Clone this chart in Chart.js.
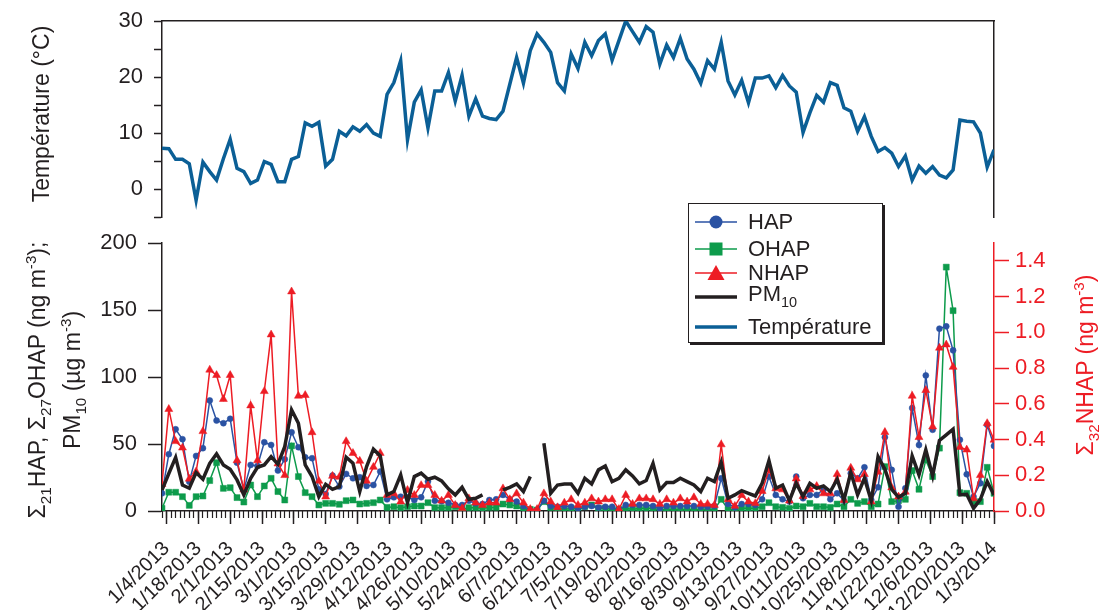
<!DOCTYPE html>
<html>
<head>
<meta charset="utf-8">
<script src="https://cdn.jsdelivr.net/npm/chart.js@4.4.1/dist/chart.umd.min.js"></script>
<style>
  html, body { margin: 0; padding: 0; background: #fff; }
  #wrap { position: relative; width: 1104px; height: 610px; overflow: hidden;
          font-family: 'Liberation Sans', Arial, sans-serif; color: #231f20; }
  #cTop { position: absolute; left: 0; top: 0; }
  #cBot { position: absolute; left: 0; top: 230px; }
  .title { position: absolute; white-space: nowrap; text-align: center;
           transform: rotate(-90deg); font-size: 23px; }
  .sub { font-size: 0.66em; position: relative; top: 0.38em; }
  .sup { font-size: 0.66em; position: relative; top: -0.6em; }
  #legend { position: absolute; left: 688px; top: 203px; width: 193px; height: 138px;
            border: 1px solid #231f20; box-shadow: 2px 2px 0 #231f20; background: #fff;
            font-size: 22px; }
  .row { position: absolute; left: 0; height: 30px; display: flex; align-items: center; }
  .row svg { margin-left: 6px; width: 44px; height: 20px; }
  .row span.t { position: absolute; left: 59px; white-space: nowrap; }
</style>
</head>
<body>
<div id="wrap">
  <canvas id="cTop" width="1104" height="230"></canvas>
  <canvas id="cBot" width="1104" height="380"></canvas>

  <div class="title" style="left:-69px; top:99px; width:220px; height:30px; line-height:30px;">Température (°C)</div>
  <div class="title" style="left:-96px; top:347px; width:300px; height:66px; line-height:33px;">Σ<span class="sub">21</span>HAP, Σ<span class="sub">27</span>OHAP (ng m<span class="sup">-3</span>);<br>PM<span class="sub">10</span> (µg m<span class="sup">-3</span>)</div>
  <div class="title" style="left:975px; top:350px; width:220px; height:30px; line-height:30px; color:#ed1c24;">Σ<span class="sub">32</span>NHAP (ng m<span class="sup">-3</span>)</div>

  <div id="legend">
    <div class="row" style="top:3px;">
      <svg viewBox="0 0 44 20"><line x1="0" y1="10" x2="42" y2="10" stroke="#2a52a3" stroke-width="1.5"/><circle cx="21" cy="10" r="6.5" fill="#2a52a3"/></svg>
      <span class="t">HAP</span>
    </div>
    <div class="row" style="top:30px;">
      <svg viewBox="0 0 44 20"><line x1="0" y1="10" x2="42" y2="10" stroke="#0d9b4b" stroke-width="1.5"/><rect x="14.5" y="3.5" width="13" height="13" fill="#0d9b4b"/></svg>
      <span class="t">OHAP</span>
    </div>
    <div class="row" style="top:54px;">
      <svg viewBox="0 0 44 20"><line x1="0" y1="10" x2="42" y2="10" stroke="#ed1c24" stroke-width="1.5"/><polygon points="21,2 29.5,17 12.5,17" fill="#ed1c24"/></svg>
      <span class="t">NHAP</span>
    </div>
    <div class="row" style="top:78px;">
      <svg viewBox="0 0 44 20"><line x1="0" y1="10" x2="42" y2="10" stroke="#231f20" stroke-width="3.5"/></svg>
      <span class="t" style="top:-1px;">PM<span class="sub">10</span></span>
    </div>
    <div class="row" style="top:108px;">
      <svg viewBox="0 0 44 20"><line x1="0" y1="10" x2="42" y2="10" stroke="#0b5f96" stroke-width="3.5"/></svg>
      <span class="t">Température</span>
    </div>
  </div>
</div>

<script>
// Samples were collected every third day, starting 2 January 2013.
// Positions on the time axis are day offsets from 4 January 2013.
const FIRST_DAY = -2;
const STEP_DAYS = 3;

// Temperature (°C)
const temperature = [
  7.3, 7.2, 5.3, 5.3, 4.5, -2.0, 4.8, 3.1, 1.6, 5.4, 8.9, 3.7, 3.1, 1.0, 1.6, 4.9, 4.4, 1.3, 1.3, 5.3,
  5.8, 11.8, 11.2, 11.9, 4.1, 5.3, 10.3, 9.5, 11.1, 10.3, 11.5, 10.0, 9.4, 16.9, 19.0, 22.9, 8.8, 15.5, 17.7, 10.9,
  17.5, 17.5, 20.8, 15.7, 20.3, 13.0, 16.1, 13.0, 12.6, 12.4, 13.9, 18.7, 23.5, 18.9, 24.7, 27.7, 26.2, 24.4, 19.0, 17.5,
  24.1, 21.5, 26.2, 23.8, 26.5, 27.7, 23.0, 26.5, 30.0, 28.1, 26.2, 29.0, 28.0, 22.3, 25.7, 23.5, 26.9, 23.2, 21.4, 18.9,
  22.9, 21.4, 26.2, 19.3, 16.8, 19.4, 15.4, 19.8, 19.8, 20.2, 18.1, 20.3, 18.4, 17.3, 10.1, 13.6, 16.7, 15.5, 19.0, 18.5,
  14.5, 13.9, 10.3, 12.9, 9.4, 6.7, 7.4, 6.4, 4.0, 5.9, 1.6, 4.1, 2.8, 4.0, 2.5, 2.0, 3.4, 12.3, 12.1, 12.0,
  10.0, 3.9, 7.0
];

// Σ21 HAP (ng m-3)
const hap = [
  13.2, 42.4, 61.0, 53.6, 21.9, 41.1, 46.9, 82.5, 67.5, 65.5, 68.8, 36.1, 15.7, 34.4, 33.6, 51.3, 49.3, 30.2, 38.6, 58.8,
  47.6, 40.1, 39.4, 16.2, 12.7, 26.4, 18.2, 27.7, 24.4, 25.2, 18.7, 19.4, 29.4, 8.7, 10.2, 10.7, 10.2, 8.2, 10.2, 22.0,
  7.7, 7.2, 6.2, 4.5, 4.5, 7.7, 5.7, 5.2, 8.2, 8.7, 12.0, 8.7, 7.0, 3.7, 0.5, 0.7, 7.7, 3.7, 3.2, 3.7,
  3.2, 2.0, 3.2, 3.7, 2.7, 3.2, 3.2, 0.7, 4.5, 4.5, 4.5, 4.5, 3.7, 2.0, 3.7, 3.7, 3.7, 3.7, 3.7, 3.2,
  3.2, 3.7, 24.4, 5.2, 2.7, 5.2, 5.2, 4.5, 8.7, 25.7, 12.0, 8.7, 7.0, 25.7, 9.5, 12.0, 12.0, 16.2, 8.7, 13.2,
  7.7, 28.2, 24.4, 32.6, 8.2, 17.7, 55.1, 30.7, 3.2, 17.0, 76.8, 49.3, 101.2, 60.6, 136.1, 137.8, 119.9, 53.1, 27.4, 10.7,
  20.7, 64.3, 48.6
];

// Σ27 OHAP (ng m-3)
const ohap = [
  2.0, 14.0, 14.0, 10.7, 4.2, 10.7, 11.2, 22.7, 36.1, 16.9, 17.4, 10.0, 6.7, 19.4, 10.7, 18.7, 24.4, 14.5, 8.2, 48.6,
  25.7, 13.7, 10.7, 4.5, 5.7, 5.7, 5.0, 7.7, 8.2, 5.2, 5.7, 6.2, 8.2, 2.7, 3.2, 2.5, 3.2, 3.7, 3.7, 6.2,
  2.5, 2.5, 2.5, 3.2, 1.2, 2.5, 2.5, 2.0, 2.7, 2.7, 5.2, 4.5, 3.7, 1.2, 1.2, 0.7, 7.0, 2.5, 2.0, 1.2,
  2.0, 1.2, 3.2, 4.5, 2.0, 2.0, 1.2, 1.2, 2.0, 1.2, 2.0, 2.0, 2.0, 0.7, 1.2, 1.2, 1.2, 1.2, 1.2, 1.2,
  1.2, 1.2, 8.7, 1.2, 0.7, 2.0, 2.0, 2.0, 3.2, 6.2, 3.2, 2.7, 2.0, 3.7, 3.2, 5.7, 3.2, 3.2, 2.7, 5.2,
  3.2, 8.7, 5.7, 7.0, 3.2, 5.2, 33.1, 7.0, 7.7, 8.7, 30.2, 16.2, 38.1, 25.7, 46.9, 182.0, 149.5, 13.7, 13.2, 7.0,
  7.0, 32.6, 13.2
];

// Σ32 NHAP (ng m-3), right axis
const nhap = [
  0.150, 0.570, 0.390, 0.354, 0.180, 0.220, 0.446, 0.790, 0.760, 0.626, 0.760, 0.283, 0.120, 0.590, 0.283, 0.670, 0.987, 0.265, 0.200, 1.228,
  0.644, 0.648, 0.440, 0.168, 0.080, 0.196, 0.190, 0.390, 0.324, 0.280, 0.168, 0.246, 0.324, 0.089, 0.098, 0.052, 0.117, 0.089, 0.144, 0.144,
  0.089, 0.057, 0.089, 0.033, 0.015, 0.070, 0.046, 0.033, 0.046, 0.046, 0.126, 0.065, 0.098, 0.046, 0.010, 0.010, 0.098, 0.052, 0.020, 0.046,
  0.065, 0.033, 0.046, 0.070, 0.052, 0.065, 0.065, 0.010, 0.089, 0.039, 0.070, 0.070, 0.065, 0.039, 0.065, 0.046, 0.070, 0.052, 0.076, 0.039,
  0.039, 0.033, 0.372, 0.065, 0.028, 0.089, 0.052, 0.043, 0.111, 0.231, 0.126, 0.120, 0.057, 0.181, 0.083, 0.120, 0.139, 0.098, 0.098, 0.206,
  0.061, 0.241, 0.176, 0.206, 0.052, 0.219, 0.441, 0.131, 0.080, 0.107, 0.644, 0.413, 0.676, 0.472, 0.913, 0.931, 0.806, 0.357, 0.343, 0.070,
  0.200, 0.491, 0.398
];

// PM10 (µg m-3); null where no measurement was made
const pm10 = [
  15.7, 28.0, 40.0, 19.4, 17.0, 28.7, 23.7, 35.6, 42.6, 34.4, 31.2, 23.2, 12.0, 24.4, 32.6, 34.4, 40.6, 34.9, 48.1, 75.5,
  65.5, 34.4, 25.7, 10.7, 19.9, 16.2, 18.2, 40.1, 35.6, 14.5, 33.1, 46.1, 41.1, 12.0, 14.5, 26.9, 6.2, 25.7, 28.2, 23.7,
  25.2, 22.5, 16.5, 12.0, 17.7, 8.7, 9.5, 12.0, null, null, 15.7, 17.7, 20.2, 14.5, 25.7, null, 50.6, 13.2, 19.4, 20.2,
  20.2, 13.2, 24.4, 20.2, 30.7, 33.6, 21.9, 24.4, 30.7, 26.2, 20.2, 22.7, 35.6, 15.7, 21.2, 21.2, 24.4, 21.9, 19.4, 14.5,
  24.4, 21.9, 36.4, 9.5, 12.0, 15.2, 13.2, 11.2, 20.7, 37.6, 17.0, 19.4, 7.7, 20.7, 10.7, 20.7, 17.0, 18.7, 14.5, 23.7,
  8.2, 28.7, 12.0, 24.4, 7.7, 40.6, 31.2, 16.2, 10.2, 13.2, 41.1, 26.9, 45.6, 26.2, 52.6, 56.8, 61.1, 12.0, 12.5, 2.0,
  8.7, 22.0, 12.0
];

// Date axis: labelled every two weeks, minor marks every two days
const dateLabels = [
  '1/4/2013', '1/18/2013', '2/1/2013', '2/15/2013', '3/1/2013', '3/15/2013', '3/29/2013',
  '4/12/2013', '4/26/2013', '5/10/2013', '5/24/2013', '6/7/2013', '6/21/2013', '7/5/2013',
  '7/19/2013', '8/2/2013', '8/16/2013', '8/30/2013', '9/13/2013', '9/27/2013', '10/11/2013',
  '10/25/2013', '11/8/2013', '11/22/2013', '12/6/2013', '12/20/2013', '1/3/2014'
];
const labelDays = [0, 14, 28, 42, 56, 70, 84, 98, 112, 126, 140, 154, 168, 182,
                   196, 210, 224, 238, 252, 266, 280, 294, 308, 322, 336, 350, 364];
const minorDays = [];
for (let d = -2; d <= 364; d += 2) minorDays.push(d);

const tempTicks = [-5, 0, 5, 10, 15, 20, 25, 30];
const leftTicks = [0, 50, 100, 150, 200];
const rightTicks = [0, 0.2, 0.4, 0.6, 0.8, 1.0, 1.2, 1.4];

const days = temperature.map((_, i) => FIRST_DAY + STEP_DAYS * i);
const pts = arr => arr.map((v, i) => ({ x: days[i], y: v }));

const AXIS = '#231f20';
const RED = '#ed1c24';
const BLUE = '#2a52a3';
const GREEN = '#0d9b4b';
const TEMP = '#0b5f96';
const FONT = "'Liberation Sans', Arial, sans-serif";
const X_MIN = -2, X_MAX = 364;

const setTicks = list => scale => { scale.ticks = list.map(v => ({ value: v })); };
// keep the plot frame exactly where the layout padding puts it
const fixWidth = w => s => { s.width = w; s.paddingTop = 0; s.paddingBottom = 0; };

// Upper panel: temperature
new Chart(document.getElementById('cTop'), {
  type: 'line',
  data: {
    datasets: [{
      data: pts(temperature), borderColor: TEMP, borderWidth: 3.5,
      pointRadius: 0, tension: 0, xAxisID: 'x', yAxisID: 'y'
    }]
  },
  options: {
    responsive: false, animation: false, events: [],
    layout: { padding: { top: 21, bottom: 13, left: 0, right: 110 } },
    plugins: { legend: { display: false }, tooltip: { enabled: false } },
    scales: {
      x: {
        type: 'linear', position: 'top', min: X_MIN, max: X_MAX,
        ticks: { display: false },
        grid: { drawOnChartArea: false, drawTicks: false },
        border: { color: AXIS, width: 1.5 },
        afterFit: s => { s.height = 0; s.paddingLeft = 0; s.paddingRight = 0; }
      },
      y: {
        position: 'left', min: -5, max: 30,
        afterBuildTicks: setTicks(tempTicks),
        ticks: {
          autoSkip: false,
          callback: v => (v % 10 === 0 ? String(v) : ''),
          font: { family: FONT, size: 22 }, color: AXIS, padding: 11
        },
        grid: { drawOnChartArea: false, tickLength: 8, tickColor: AXIS, tickWidth: 1.5 },
        border: { color: AXIS, width: 1.5 },
        afterFit: fixWidth(162)
      },
      yR: {
        position: 'right', min: -5, max: 30,
        ticks: { display: false },
        grid: { drawOnChartArea: false, drawTicks: false },
        border: { color: AXIS, width: 1.5 },
        afterFit: fixWidth(0)
      }
    }
  }
});

// Lower panel: HAP, OHAP, PM10 (left axis) and NHAP (right axis)
new Chart(document.getElementById('cBot'), {
  type: 'line',
  data: {
    datasets: [
      { label: 'PM10', data: pts(pm10), borderColor: AXIS, borderWidth: 3.5,
        pointRadius: 0, spanGaps: false, xAxisID: 'x', yAxisID: 'y' },
      { label: 'NHAP', data: pts(nhap), borderColor: RED, backgroundColor: RED, borderWidth: 1.5,
        pointStyle: 'triangle', pointRadius: 4.6, pointBorderWidth: 0.5, xAxisID: 'x', yAxisID: 'yR' },
      { label: 'HAP', data: pts(hap), borderColor: BLUE, backgroundColor: BLUE, borderWidth: 1.5,
        pointStyle: 'circle', pointRadius: 3, pointBorderWidth: 0.5, xAxisID: 'x', yAxisID: 'y' },
      { label: 'OHAP', data: pts(ohap), borderColor: GREEN, backgroundColor: GREEN, borderWidth: 1.5,
        pointStyle: 'rect', pointRadius: 4.2, pointBorderWidth: 0.5, xAxisID: 'x', yAxisID: 'y' }
    ]
  },
  options: {
    responsive: false, animation: false, events: [],
    layout: { padding: { top: 13, bottom: 0, left: 0, right: 0 } },
    elements: { line: { tension: 0 } },
    plugins: { legend: { display: false }, tooltip: { enabled: false } },
    scales: {
      xm: {
        type: 'linear', position: 'bottom', weight: -1, min: X_MIN, max: X_MAX,
        afterBuildTicks: setTicks(minorDays),
        ticks: { display: false },
        grid: { drawOnChartArea: false, tickLength: 7, tickColor: AXIS, tickWidth: 1.2 },
        border: { display: false },
        afterFit: s => { s.height = 0; s.paddingLeft = 0; s.paddingRight = 0; }
      },
      x: {
        type: 'linear', position: 'bottom', weight: 0, min: X_MIN, max: X_MAX,
        afterBuildTicks: setTicks(labelDays),
        ticks: {
          autoSkip: false, minRotation: 45, maxRotation: 45,
          callback: (v, i) => dateLabels[i],
          font: { family: FONT, size: 20 }, color: AXIS, padding: 13
        },
        grid: { drawOnChartArea: false, tickLength: 13, tickColor: AXIS, tickWidth: 1.5 },
        border: { color: AXIS, width: 1.5 },
        afterFit: s => { s.height = 99; s.paddingLeft = 0; s.paddingRight = 0; }
      },
      y: {
        position: 'left', min: 0, max: 200,
        afterBuildTicks: setTicks(leftTicks),
        ticks: { autoSkip: false, font: { family: FONT, size: 22 }, color: AXIS, padding: 11 },
        grid: { drawOnChartArea: false, tickLength: 14, tickColor: AXIS, tickWidth: 1.5 },
        border: { color: AXIS, width: 1.5 },
        afterFit: fixWidth(162)
      },
      yR: {
        position: 'right', min: 0, max: 1.5,
        afterBuildTicks: setTicks(rightTicks),
        ticks: { autoSkip: false, callback: v => v.toFixed(1), font: { family: FONT, size: 22 }, color: RED, padding: 6 },
        grid: { drawOnChartArea: false, tickLength: 15, tickColor: RED, tickWidth: 1.5 },
        border: { color: RED, width: 1.5 },
        afterFit: fixWidth(110)
      }
    }
  }
});
</script>
</body>
</html>
